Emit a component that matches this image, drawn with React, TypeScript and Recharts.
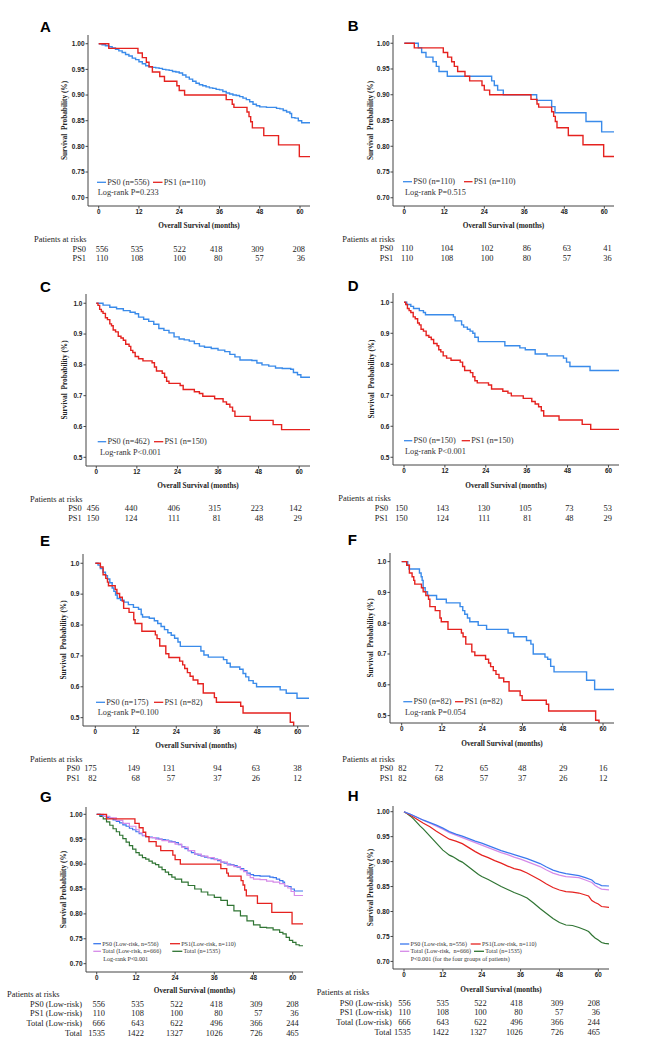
import React from 'react';
import { LineChart, Line, XAxis, YAxis } from 'recharts';

type Pt = [number, number];

// ---------- axis ticks ----------
const monthTicks = [0, 12, 24, 36, 48, 60];
const ticksHi = [0.7, 0.75, 0.8, 0.85, 0.9, 0.95, 1.0];
const ticksLo = [0.5, 0.6, 0.7, 0.8, 0.9, 1.0];

// ---------- survival curves (month, survival) ----------
const ps0_556: Pt[] = [[0,1],[1,0.998],[2,0.996],[3,0.994],[4,0.992],[5,0.989],[6,0.986],[7,0.983],[8,0.979],[9,0.976],[10,0.972],[11,0.969],[12,0.965],[13,0.961],[14,0.957],[15,0.955],[16,0.954],[17,0.953],[18,0.952],[19,0.95],[20,0.949],[21,0.948],[22,0.946],[23,0.945],[24,0.943],[25,0.939],[26,0.935],[27,0.931],[28,0.927],[29,0.923],[30,0.92],[31,0.918],[32,0.916],[33,0.914],[34,0.913],[35,0.911],[36,0.91],[37,0.907],[38,0.904],[39,0.902],[40,0.9],[41,0.899],[42,0.897],[43,0.894],[44,0.891],[45,0.887],[46,0.882],[47,0.879],[48,0.877],[50,0.876],[52,0.876],[53,0.874],[54,0.873],[55,0.87],[56,0.867],[57,0.864],[57.5,0.856],[58.5,0.855],[59.5,0.85],[60.5,0.846],[63.5,0.846]];
const ps1_110: Pt[] = [[0,1],[3,0.991],[11.7,0.982],[13,0.973],[14.2,0.964],[15,0.955],[16,0.945],[18.2,0.936],[19.6,0.927],[23.3,0.918],[24,0.909],[25.6,0.9],[38,0.891],[39.8,0.882],[40.3,0.876],[44.2,0.867],[44.8,0.858],[45.3,0.848],[45.8,0.836],[49.2,0.821],[53.6,0.803],[59.8,0.78],[63.5,0.78]];
const ps0_110: Pt[] = [[0,1],[4.2,0.991],[5.2,0.982],[6.5,0.973],[8.6,0.964],[9.6,0.955],[10.4,0.945],[12.9,0.936],[26.2,0.927],[27,0.918],[28,0.909],[29.7,0.9],[39.7,0.889],[44.2,0.877],[45.2,0.865],[54.5,0.848],[59.2,0.828],[63.5,0.828]];
const ps0_462: Pt[] = [[0,1],[2,0.994],[4,0.987],[6,0.982],[8,0.976],[10,0.971],[11.5,0.966],[12.5,0.955],[14,0.948],[15.5,0.941],[17,0.932],[18.5,0.918],[20,0.912],[21.5,0.904],[23,0.891],[24.5,0.884],[26,0.881],[27.5,0.877],[29,0.869],[30.5,0.861],[32,0.857],[34,0.853],[36,0.848],[38,0.843],[39.5,0.834],[41,0.826],[42.5,0.816],[46,0.814],[47.5,0.806],[49,0.8],[51,0.796],[53,0.79],[55,0.788],[57.5,0.786],[58.3,0.775],[59.5,0.768],[60.5,0.76],[63.5,0.76]];
const ps1_150: Pt[] = [[0,1],[0.5,0.993],[1,0.98],[1.5,0.973],[2,0.967],[2.7,0.953],[3.3,0.947],[4,0.933],[4.5,0.927],[5,0.913],[5.7,0.907],[6.5,0.893],[7.3,0.887],[8,0.88],[8.7,0.867],[9.7,0.86],[10.2,0.847],[10.8,0.84],[11.5,0.827],[12.5,0.82],[13.8,0.813],[16.5,0.807],[17.2,0.793],[17.8,0.78],[19.5,0.773],[20.2,0.76],[20.8,0.747],[21.5,0.74],[24.8,0.733],[25.7,0.72],[29,0.713],[30.5,0.707],[31.5,0.698],[35,0.69],[37.5,0.68],[38.5,0.672],[39.5,0.663],[40.3,0.65],[41,0.633],[45.5,0.62],[52.3,0.606],[54.8,0.59],[63.5,0.59]];
const ps0_150: Pt[] = [[0,1],[0.8,0.993],[2,0.987],[2.8,0.98],[4.5,0.973],[5.7,0.967],[6.3,0.96],[14.5,0.953],[15,0.94],[16.9,0.927],[17.5,0.92],[18.6,0.913],[19.4,0.907],[20.2,0.9],[20.8,0.887],[21.8,0.873],[29.6,0.86],[34,0.853],[35.6,0.847],[38.5,0.833],[42,0.827],[46.8,0.82],[47.7,0.807],[48.7,0.793],[54.6,0.78],[63.5,0.78]];
const ps0_175: Pt[] = [[0,1],[0.8,0.994],[1.5,0.983],[2.3,0.971],[3,0.96],[3.6,0.949],[4.3,0.937],[5,0.92],[5.5,0.909],[6,0.897],[6.5,0.886],[7.5,0.88],[8.5,0.874],[9.8,0.866],[11.3,0.857],[12.8,0.851],[13.6,0.834],[14,0.826],[16,0.822],[17.5,0.814],[18.5,0.805],[19.5,0.795],[20.5,0.785],[21.5,0.775],[22.5,0.767],[23.5,0.757],[24.5,0.745],[25.2,0.731],[31.3,0.716],[32.2,0.703],[33.5,0.696],[38,0.688],[39,0.676],[40,0.664],[42.8,0.657],[43.8,0.643],[44.6,0.632],[45.5,0.62],[46.8,0.611],[47.8,0.6],[54.8,0.59],[56.6,0.579],[59.8,0.563],[63.5,0.563]];
const ps1_82: Pt[] = [[0,1],[1.5,0.988],[2.3,0.963],[3.1,0.951],[3.6,0.939],[3.9,0.927],[5.9,0.915],[6.4,0.902],[7.2,0.89],[8,0.878],[8.4,0.854],[10,0.841],[11.4,0.817],[11.8,0.805],[13.8,0.78],[17.8,0.768],[18.3,0.756],[19.1,0.732],[20.9,0.707],[21.8,0.695],[25,0.683],[25.9,0.671],[26.5,0.659],[27.3,0.646],[28.1,0.634],[29,0.622],[30.4,0.61],[32,0.58],[35.3,0.565],[35.9,0.55],[43.1,0.537],[43.8,0.515],[57.8,0.485],[58.8,0.44],[59,0.44]];
const ps0_82: Pt[] = [[0,1],[1.8,0.988],[2.2,0.976],[5.3,0.963],[5.8,0.951],[6.1,0.939],[6.4,0.915],[7,0.902],[7.7,0.89],[10.4,0.878],[13.3,0.866],[17.4,0.854],[18.2,0.841],[18.8,0.829],[19.6,0.817],[20.3,0.805],[22.8,0.793],[25.3,0.78],[31.7,0.768],[33.4,0.756],[37.2,0.744],[38.5,0.732],[39.2,0.7],[42.7,0.69],[43.5,0.683],[44.4,0.66],[45.4,0.642],[55.1,0.615],[57.5,0.585],[63.5,0.585]];
const total_666: Pt[] = [[0,1],[2,0.996],[4,0.993],[6,0.988],[8,0.982],[10,0.976],[12,0.969],[13,0.963],[14,0.958],[15,0.955],[16,0.953],[18,0.95],[20,0.947],[22,0.944],[24,0.94],[26,0.934],[28,0.927],[30,0.92],[32,0.916],[34,0.913],[36,0.909],[38,0.904],[40,0.898],[42,0.895],[44,0.889],[45,0.885],[46,0.878],[47,0.873],[48,0.87],[50,0.869],[52,0.866],[54,0.864],[56,0.861],[57.5,0.856],[58.5,0.852],[59.5,0.845],[60.5,0.837],[63.5,0.835]];
const total_1535: Pt[] = [[0,1],[1,0.996],[2,0.991],[3,0.985],[4,0.978],[5,0.971],[6,0.965],[7,0.958],[8,0.951],[9,0.944],[10,0.937],[11,0.93],[12,0.923],[13,0.918],[14,0.913],[15,0.91],[16,0.906],[17,0.902],[18,0.899],[19,0.894],[20,0.889],[21,0.884],[22,0.879],[23,0.874],[24,0.87],[26,0.864],[28,0.857],[30,0.85],[32,0.844],[34,0.838],[36,0.833],[38,0.827],[40,0.817],[42,0.806],[44,0.796],[46,0.786],[48,0.778],[50,0.773],[52,0.772],[54,0.768],[56,0.763],[57,0.76],[58,0.753],[59,0.747],[60,0.743],[61,0.738],[62,0.736],[63.5,0.735]];
const adj_ps0: Pt[] = [[0,1],[2,0.995],[4,0.989],[6,0.983],[8,0.978],[10,0.973],[12,0.967],[14,0.96],[16,0.955],[18,0.951],[20,0.946],[22,0.941],[24,0.937],[26,0.932],[28,0.927],[30,0.922],[32,0.918],[34,0.914],[36,0.91],[38,0.906],[40,0.901],[42,0.896],[44,0.889],[46,0.883],[48,0.879],[50,0.876],[52,0.874],[54,0.872],[56,0.868],[58,0.863],[59,0.857],[60,0.855],[61,0.852],[63.5,0.851]];
const adj_total666: Pt[] = [[0,1],[2,0.995],[4,0.989],[6,0.983],[8,0.977],[10,0.971],[12,0.965],[14,0.958],[16,0.953],[18,0.948],[20,0.943],[22,0.938],[24,0.933],[26,0.928],[28,0.923],[30,0.918],[32,0.914],[34,0.909],[36,0.905],[38,0.9],[40,0.895],[42,0.89],[44,0.883],[46,0.877],[48,0.873],[50,0.87],[52,0.869],[54,0.868],[56,0.863],[58,0.858],[59,0.852],[60,0.848],[61,0.845],[63.5,0.843]];
const adj_ps1: Pt[] = [[0,1],[2,0.993],[4,0.985],[6,0.977],[8,0.97],[10,0.961],[12,0.953],[14,0.945],[16,0.941],[18,0.936],[20,0.928],[22,0.92],[24,0.913],[26,0.908],[28,0.902],[30,0.897],[32,0.891],[34,0.886],[36,0.883],[38,0.877],[40,0.87],[42,0.863],[44,0.855],[46,0.848],[48,0.843],[50,0.84],[52,0.839],[54,0.837],[56,0.833],[57,0.831],[58,0.822],[59,0.818],[60,0.815],[61,0.81],[63.5,0.808]];

// ---------- numbers at risk ----------
const risk_ps0_556 = [556, 535, 522, 418, 309, 208];
const risk_ps1_110 = [110, 108, 100, 80, 57, 36];
const risk_ps0_110 = [110, 104, 102, 86, 63, 41];
const risk_ps0_456 = [456, 440, 406, 315, 223, 142];
const risk_ps1_150 = [150, 124, 111, 81, 48, 29];
const risk_ps0_150 = [150, 143, 130, 105, 73, 53];
const risk_ps0_175 = [175, 149, 131, 94, 63, 38];
const risk_ps1_82 = [82, 68, 57, 37, 26, 12];
const risk_ps0_82 = [82, 72, 65, 48, 29, 16];
const risk_total_666 = [666, 643, 622, 496, 366, 244];
const risk_total_1535 = [1535, 1422, 1327, 1026, 726, 465];

// ---------- styles ----------
const BLUE = '#3a8bea';
const RED = '#e5221f';
const BLUE2 = '#3a78ee';
const VIOLET = '#d58ae8';
const GREEN = '#2f7433';
const SERIF = '"Liberation Serif", "Times New Roman", serif';
const SANS = '"Liberation Sans", Arial, sans-serif';

type Series = { data: Pt[]; color: string; w: number; curve?: 'stepAfter' | 'linear' };
type LegItem = { x: number; len: number; color: string; text: string };
type LegRow = { y: number; items: LegItem[] };
type RiskRow = { label: string; values: number[]; y: number };
type PanelCfg = {
  letter: string; lx: number; ly: number;
  L: number; T: number; R: number; B: number;
  xd: [number, number]; yd: [number, number]; yticks: number[]; dec: number;
  series: Series[];
  legFont: number; legend: LegRow[]; ptext: { x: number; y: number; text: string };
  yTitleX: number; yTitle: string; xTitleY: number;
  risk: { hx: number; hy: number; labelRight: number; dx: number[]; rows: RiskRow[] };
};

const lowY = 'Survival  Probability (%)';
const hiY = 'Survival Probability (%)';

const panels: PanelCfg[] = [
  {
    letter: 'A', lx: 40, ly: 31.7, L: 88, T: 35, R: 310, B: 206, xd: [-3.19, 62.98], yd: [0.6838, 1.017], yticks: ticksHi, dec: 2,
    series: [{ data: ps0_556, color: BLUE, w: 1.4 }, { data: ps1_110, color: RED, w: 1.4 }],
    legFont: 8.3,
    legend: [{ y: 182.3, items: [{ x: 97, len: 9, color: BLUE, text: 'PS0 (n=556)' }, { x: 153, len: 9.5, color: RED, text: 'PS1 (n=110)' }] }],
    ptext: { x: 97.7, y: 192.7, text: 'Log-rank P=0.233' },
    yTitleX: 64, yTitle: lowY, xTitleY: 225.3,
    risk: { hx: 34, hy: 239, labelRight: 86, dx: [9.6, 4.3, 6.6, 3, 4, 5], rows: [{ label: 'PS0', values: risk_ps0_556, y: 249 }, { label: 'PS1', values: risk_ps1_110, y: 258.3 }] },
  },
  {
    letter: 'B', lx: 347.7, ly: 30.7, L: 393, T: 35, R: 614, B: 206, xd: [-3.39, 62.9], yd: [0.684, 1.016], yticks: ticksHi, dec: 2,
    series: [{ data: ps0_110, color: BLUE, w: 1.4 }, { data: ps1_110, color: RED, w: 1.4 }],
    legFont: 8.3,
    legend: [{ y: 181.7, items: [{ x: 403, len: 9, color: BLUE, text: 'PS0 (n=110)' }, { x: 464, len: 8.5, color: RED, text: 'PS1 (n=110)' }] }],
    ptext: { x: 405, y: 192.3, text: 'Log-rank P=0.515' },
    yTitleX: 370, yTitle: lowY, xTitleY: 225.3,
    risk: { hx: 342.3, hy: 239.3, labelRight: 393.3, dx: [9, 9, 9, 6.7, 6.7, 7.3], rows: [{ label: 'PS0', values: risk_ps0_110, y: 248.7 }, { label: 'PS1', values: risk_ps1_110, y: 258.3 }] },
  },
  {
    letter: 'C', lx: 40, ly: 291.7, L: 86, T: 294, R: 310, B: 466, xd: [-3.04, 63.2], yd: [0.4718, 1.03], yticks: ticksLo, dec: 1,
    series: [{ data: ps0_462, color: BLUE, w: 1.4 }, { data: ps1_150, color: RED, w: 1.4 }],
    legFont: 8.3,
    legend: [{ y: 441.7, items: [{ x: 97.7, len: 8.5, color: BLUE, text: 'PS0 (n=462)' }, { x: 154, len: 9.3, color: RED, text: 'PS1 (n=150)' }] }],
    ptext: { x: 100, y: 452.3, text: 'Log-rank P<0.001' },
    yTitleX: 64.3, yTitle: lowY, xTitleY: 485.3,
    risk: { hx: 30, hy: 499.3, labelRight: 81.7, dx: [3, 0.5, 2.5, 3, 4.6, 2.7], rows: [{ label: 'PS0', values: risk_ps0_456, y: 508.7 }, { label: 'PS1', values: risk_ps1_150, y: 518.3 }] },
  },
  {
    letter: 'D', lx: 347.7, ly: 290.7, L: 393, T: 293, R: 619, B: 465, xd: [-3.23, 63.1], yd: [0.475, 1.03], yticks: ticksLo, dec: 1,
    series: [{ data: ps0_150, color: BLUE, w: 1.4 }, { data: ps1_150, color: RED, w: 1.4 }],
    legFont: 8.3,
    legend: [{ y: 440.7, items: [{ x: 404, len: 8.3, color: BLUE, text: 'PS0 (n=150)' }, { x: 461.7, len: 8.3, color: RED, text: 'PS1 (n=150)' }] }],
    ptext: { x: 405, y: 451.7, text: 'Log-rank P<0.001' },
    yTitleX: 371.7, yTitle: lowY, xTitleY: 485,
    risk: { hx: 338.3, hy: 498.7, labelRight: 388.3, dx: [3.7, 4, 4.3, 5, 6, 3.4], rows: [{ label: 'PS0', values: risk_ps0_150, y: 508.7 }, { label: 'PS1', values: risk_ps1_150, y: 518.3 }] },
  },
  {
    letter: 'E', lx: 40, ly: 546, L: 83, T: 554, R: 309, B: 726, xd: [-3.65, 63.35], yd: [0.473, 1.03], yticks: ticksLo, dec: 1,
    series: [{ data: ps0_175, color: BLUE, w: 1.4 }, { data: ps1_82, color: RED, w: 1.4 }],
    legFont: 8.3,
    legend: [{ y: 702.3, items: [{ x: 96, len: 9, color: BLUE, text: 'PS0 (n=175)' }, { x: 154, len: 9.3, color: RED, text: 'PS1 (n=82)' }] }],
    ptext: { x: 97.7, y: 712.7, text: 'Log-rank P=0.100' },
    yTitleX: 63.3, yTitle: lowY, xTitleY: 745.3,
    risk: { hx: 30, hy: 759.3, labelRight: 80, dx: [1.4, 4.2, -1.2, 5, 2.8, 4], rows: [{ label: 'PS0', values: risk_ps0_175, y: 768.7 }, { label: 'PS1', values: risk_ps1_82, y: 778 }] },
  },
  {
    letter: 'F', lx: 347.7, ly: 545.3, L: 390, T: 553, R: 614, B: 723, xd: [-3.48, 63.27], yd: [0.476, 1.028], yticks: ticksLo, dec: 1,
    series: [{ data: ps0_82, color: BLUE, w: 1.4 }, { data: ps1_82, color: RED, w: 1.4 }],
    legFont: 8.3,
    legend: [{ y: 701.7, items: [{ x: 403.3, len: 9, color: BLUE, text: 'PS0 (n=82)' }, { x: 455, len: 8.3, color: RED, text: 'PS1 (n=82)' }] }],
    ptext: { x: 405, y: 712.3, text: 'Log-rank P=0.054' },
    yTitleX: 370, yTitle: lowY, xTitleY: 743.3,
    risk: { hx: 342.3, hy: 759.3, labelRight: 393.3, dx: [5, 1.3, 6, 4, 4.7, 4.4], rows: [{ label: 'PS0', values: risk_ps0_82, y: 768.7 }, { label: 'PS1', values: risk_ps1_82, y: 778 }] },
  },
  {
    letter: 'G', lx: 40, ly: 801.7, L: 86, T: 807, R: 303, B: 972, xd: [-3.28, 63.15], yd: [0.6833, 1.0147], yticks: ticksHi, dec: 2,
    series: [
      { data: total_1535, color: GREEN, w: 1.2 },
      { data: ps0_556, color: BLUE2, w: 1.2 },
      { data: total_666, color: VIOLET, w: 1.2 },
      { data: ps1_110, color: RED, w: 1.3 },
    ],
    legFont: 6.1,
    legend: [
      { y: 943.7, items: [{ x: 93.3, len: 7.7, color: BLUE2, text: 'PS0 (Low-risk, n=556)' }, { x: 170, len: 10, color: RED, text: 'PS1(Low-risk, n=110)' }] },
      { y: 951.3, items: [{ x: 93.3, len: 7.7, color: VIOLET, text: 'Total (Low-risk, n=666)' }, { x: 172.3, len: 10, color: GREEN, text: 'Total (n=1535)' }] },
    ],
    ptext: { x: 103.3, y: 958.7, text: 'Log-rank P<0.001' },
    yTitleX: 63.3, yTitle: hiY, xTitleY: 990.7,
    risk: {
      hx: 7, hy: 994, labelRight: 82, dx: [8.3, 8, 7.7, 8.3, 9, 6],
      rows: [
        { label: 'PS0 (Low-risk)', values: risk_ps0_556, y: 1004.3 },
        { label: 'PS1 (Low-risk)', values: risk_ps1_110, y: 1013.7 },
        { label: 'Total (Low-risk)', values: risk_total_666, y: 1023.7 },
        { label: 'Total', values: risk_total_1535, y: 1033 },
      ],
    },
  },
  {
    letter: 'H', lx: 347.7, ly: 801, L: 393, T: 806, R: 609, B: 969, xd: [-3.4, 63.3], yd: [0.6848, 1.0114], yticks: ticksHi, dec: 2,
    series: [
      { data: total_1535, color: GREEN, w: 1.2, curve: 'linear' },
      { data: adj_ps1, color: RED, w: 1.2, curve: 'linear' },
      { data: adj_total666, color: VIOLET, w: 1.2, curve: 'linear' },
      { data: adj_ps0, color: BLUE2, w: 1.2, curve: 'linear' },
    ],
    legFont: 6.1,
    legend: [
      { y: 944, items: [{ x: 400, len: 9.3, color: BLUE2, text: 'PS0 (Low-risk, n=556)' }, { x: 470.7, len: 10, color: RED, text: 'PS1(Low-risk, n=110)' }] },
      { y: 951.3, items: [{ x: 400, len: 9.3, color: VIOLET, text: 'Total (Low-risk,  n=666)' }, { x: 474, len: 10, color: GREEN, text: 'Total (n=1535)' }] },
    ],
    ptext: { x: 410.7, y: 958.7, text: 'P<0.001 (for the four groups of patients)' },
    yTitleX: 370, yTitle: hiY, xTitleY: 989.3,
    risk: {
      hx: 316.7, hy: 992.3, labelRight: 391.7, dx: [6.7, 6.1, 5, 2.1, 3.9, 1.7],
      rows: [
        { label: 'PS0 (Low-risk)', values: risk_ps0_556, y: 1003.3 },
        { label: 'PS1 (Low-risk)', values: risk_ps1_110, y: 1012.7 },
        { label: 'Total (Low-risk)', values: risk_total_666, y: 1022.3 },
        { label: 'Total', values: risk_total_1535, y: 1032.3 },
      ],
    },
  },
];

const toRows = (d: Pt[]) => d.map(([t, s]) => ({ t, s }));

function PanelChart({ p }: { p: PanelCfg }) {
  const W = p.R - p.L;
  const H = p.B - p.T;
  return (
    <div style={{ position: 'absolute', left: p.L - 40, top: p.T - 6 }}>
      <LineChart width={W + 46} height={H + 36} margin={{ top: 6, right: 6, bottom: 0, left: 0 }}>
        <XAxis
          type="number"
          dataKey="t"
          domain={p.xd}
          ticks={monthTicks}
          allowDataOverflow
          interval={0}
          height={30}
          tickSize={2.5}
          tickMargin={1}
          stroke="#444"
          tick={{ fontSize: 6.3, fontWeight: 700, fill: '#222', fontFamily: SANS }}
        />
        <YAxis
          type="number"
          domain={p.yd}
          ticks={p.yticks}
          allowDataOverflow
          interval={0}
          width={40}
          tickSize={2.5}
          tickMargin={1}
          stroke="#444"
          tickFormatter={(v: number) => v.toFixed(p.dec)}
          tick={{ fontSize: 6.5, fontWeight: 700, fill: '#222', fontFamily: SANS }}
        />
        {p.series.map((s, i) => (
          <Line
            key={i}
            data={toRows(s.data)}
            dataKey="s"
            type={s.curve || 'stepAfter'}
            stroke={s.color}
            strokeWidth={s.w}
            dot={false}
            activeDot={false}
            isAnimationActive={false}
          />
        ))}
      </LineChart>
    </div>
  );
}

function PanelText({ p }: { p: PanelCfg }) {
  const xPos = (t: number) => p.L + ((t - p.xd[0]) / (p.xd[1] - p.xd[0])) * (p.R - p.L);
  const yc = (p.T + p.B) / 2;
  return (
    <g>
      <text x={p.lx} y={p.ly} fontFamily={SANS} fontWeight={700} fontSize={15} fill="#000">{p.letter}</text>
      <text
        x={p.yTitleX}
        y={yc}
        transform={`rotate(-90 ${p.yTitleX} ${yc})`}
        textAnchor="middle"
        dominantBaseline="central"
        fontFamily={SERIF}
        fontWeight={700}
        fontSize={7.3}
        fill="#222"
        style={{ whiteSpace: 'pre' }}
      >
        {p.yTitle}
      </text>
      <text x={(p.L + p.R) / 2} y={p.xTitleY} textAnchor="middle" dominantBaseline="central" fontFamily={SERIF} fontWeight={700} fontSize={7.3} fill="#222">
        Overall Survival (months)
      </text>
      {p.legend.map((row, ri) => (
        <g key={ri}>
          {row.items.map((it, ii) => (
            <g key={ii}>
              <line x1={it.x} x2={it.x + it.len} y1={row.y} y2={row.y} stroke={it.color} strokeWidth={1.3} />
              <text x={it.x + it.len + 1.2} y={row.y} dominantBaseline="central" fontFamily={SERIF} fontSize={p.legFont} fill="#333" style={{ whiteSpace: 'pre' }}>
                {it.text}
              </text>
            </g>
          ))}
        </g>
      ))}
      <text x={p.ptext.x} y={p.ptext.y} dominantBaseline="central" fontFamily={SERIF} fontSize={p.legFont} fill="#333">
        {p.ptext.text}
      </text>
      <text x={p.risk.hx} y={p.risk.hy} dominantBaseline="central" fontFamily={SERIF} fontSize={8.4} fill="#222">
        Patients at risks
      </text>
      {p.risk.rows.map((r, ri) => (
        <g key={ri}>
          <text x={p.risk.labelRight} y={r.y} textAnchor="end" dominantBaseline="central" fontFamily={SERIF} fontSize={8.4} fill="#222">
            {r.label}
          </text>
          {r.values.map((v, vi) => (
            <text key={vi} x={xPos(monthTicks[vi]) + p.risk.dx[vi]} y={r.y} textAnchor="end" dominantBaseline="central" fontFamily={SERIF} fontSize={8.4} fill="#222">
              {v}
            </text>
          ))}
        </g>
      ))}
    </g>
  );
}

export default function App() {
  return (
    <div style={{ position: 'absolute', left: 0, top: 0, width: 649, height: 1044, background: '#fff', overflow: 'hidden' }}>
      {panels.map((p) => (
        <PanelChart key={p.letter} p={p} />
      ))}
      <svg width={649} height={1044} style={{ position: 'absolute', left: 0, top: 0, pointerEvents: 'none' }}>
        {panels.map((p) => (
          <PanelText key={p.letter} p={p} />
        ))}
      </svg>
    </div>
  );
}
